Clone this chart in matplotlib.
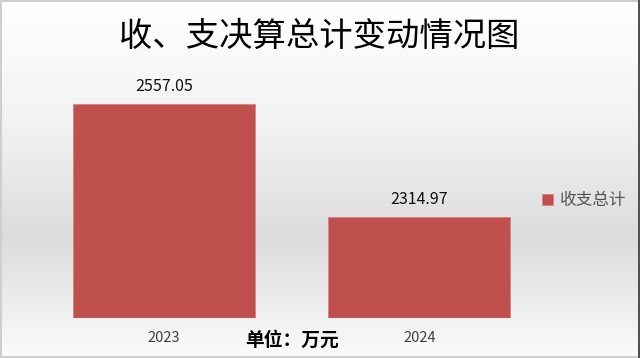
import numpy as np
import matplotlib
matplotlib.use("Agg")
import matplotlib.pyplot as plt
from matplotlib.colors import LinearSegmentedColormap
from matplotlib.patches import Rectangle

plt.rcParams['font.family'] = ['Noto Sans CJK SC', 'DejaVu Sans']

years = ['2023', '2024']
totals = [2557.05, 2314.97]
series_name = '收支总计'
title = '收、支决算总计变动情况图'
unit_text = '单位：万元'
bar_color = '#c0504d'

fig = plt.figure(figsize=(6.4, 3.58), dpi=100)

# background gradient: white -> light grey (about 2/3 down) -> white
bg = fig.add_axes([0, 0, 1, 1], zorder=-10)
cmap = LinearSegmentedColormap.from_list(
    'bg', [(0, '#ffffff'), (0.35, '#f2f2f2'), (0.66, '#dcdcdc'), (1.0, '#fbfbfb')])
grad = np.linspace(0, 1, 256).reshape(-1, 1)
bg.imshow(grad, aspect='auto', cmap=cmap, extent=[0, 1, 0, 1], origin='upper')
bg.add_patch(Rectangle((0.001, 0.002), 0.997, 0.995, fill=False,
                       edgecolor='#cfcfcf', linewidth=1.5, transform=bg.transAxes))
bg.plot([0.9985, 0.9985], [0, 1], color='#3a3a3a', linewidth=1.2, transform=bg.transAxes)
bg.set_xlim(0, 1)
bg.set_ylim(0, 1)
bg.axis('off')

ax = fig.add_axes([36 / 640, (358 - 318) / 358, (547 - 36) / 640, (318 - 84) / 358])
ax.patch.set_alpha(0)
x = np.arange(len(years))
bars = ax.bar(x, totals, width=0.712, color=bar_color, edgecolor='#d9827f',
              linewidth=0.6, label=series_name)
ax.set_xlim(-0.5, 1.5)
ax.set_ylim(2100, 2600)
for b, v in zip(bars, totals):
    ax.annotate(f'{v:.2f}', (b.get_x() + b.get_width() / 2, v),
                xytext=(0, 6.5), textcoords='offset points',
                ha='center', va='bottom', fontsize=11.5, color='#111111')
ax.set_xticks(x)
ax.set_xticklabels(years, fontsize=10.5, color='#404040')
ax.tick_params(axis='x', length=0, pad=9)
ax.set_yticks([])
for s in ax.spines.values():
    s.set_visible(False)

fig.text(319 / 640, 1 - 36 / 358, title, ha='center', va='center',
         fontsize=24, color='#000000')
fig.text(292 / 640, 1 - 340 / 358, unit_text, ha='center', va='center',
         fontsize=13.5, color='#000000', fontweight='bold')

fig.legend(handles=[bars], labels=[series_name], loc='center left',
           bbox_to_anchor=(527 / 640, 1 - 201 / 358), frameon=False,
           fontsize=12, handlelength=0.65, handleheight=0.65, handletextpad=0.4,
           labelcolor='#555555')

fig.savefig('out.png', dpi=100)
